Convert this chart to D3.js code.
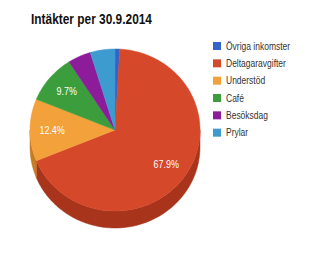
<!DOCTYPE html>
<html>
<head>
<meta charset="utf-8">
<script src="https://cdn.jsdelivr.net/npm/d3@7"></script>
<style>
  body { margin: 0; background: #fff; }
  text { font-family: Arial, "Liberation Sans", sans-serif; }
</style>
</head>
<body>
<svg width="316" height="267"></svg>
<script>
(function () {

  // data
  var categories = ['Övriga inkomster', 'Deltagaravgifter', 'Understöd', 'Café', 'Besöksdag', 'Prylar']
  var values = [0.9, 67.9, 12.4, 9.7, 4.4, 4.7]
  var colors = ['#3463c9', '#d6482a', '#f3a13a', '#3c9d3c', '#8d1c9b', '#3d9bd0']
  var sideColors = ['#28499a', '#a8341c', '#c57c22', '#2a7a2a', '#6a1375', '#2c78a6']

  var svg = d3.select('svg')
  var squash = 0.85   // the picture is a bit narrow horizontally

  // pie geometry
  var cx = 115, cy = 130, rx = 85, ry = 81, depth = 17

  var pie = d3.pie().sort(null).value(function (d) { return d })
  var arcs = pie(values)

  function px(a) { return cx + rx * Math.sin(a) }
  function py(a) { return cy - ry * Math.cos(a) }

  function rim(a0, a1, dy) {
    var pts = []
    var n = Math.max(2, Math.ceil((a1 - a0) / 0.02))
    for (var i = 0; i <= n; i++) {
      var a = a0 + (a1 - a0) * i / n
      pts.push([px(a), py(a) + dy])
    }
    return pts
  }

  // sides: only the front half shows
  var sides = svg.append('g')
  arcs.forEach(function (d, i) {
    var a0 = Math.max(d.startAngle, Math.PI / 2)
    var a1 = Math.min(d.endAngle, Math.PI * 3 / 2)
    if (a1 <= a0) return
    var top = rim(a0, a1, 0)
    var bottom = rim(a0, a1, depth).reverse()
    sides.append('path')
      .attr('d', 'M' + top.concat(bottom).join('L') + 'Z')
      .attr('fill', sideColors[i])
      .attr('stroke', sideColors[i])
      .attr('stroke-width', 0.5)
  })

  // top faces
  svg.append('g').selectAll('path')
    .data(arcs)
    .enter().append('path')
    .attr('d', function (d) {
      var pts = rim(d.startAngle, d.endAngle, 0)
      return 'M' + cx + ',' + cy + 'L' + pts.join('L') + 'Z'
    })
    .attr('fill', function (d, i) { return colors[i] })
    .attr('stroke', function (d, i) { return colors[i] })
    .attr('stroke-width', 0.5)

  // slice labels (small slices get none)
  svg.append('g').selectAll('text')
    .data(arcs.filter(function (d) { return d.value >= 5 }))
    .enter().append('text')
    .attr('transform', function (d) {
      var a = (d.startAngle + d.endAngle) / 2
      var x = cx + 0.74 * rx * Math.sin(a)
      var y = cy - 0.74 * ry * Math.cos(a)
      return 'translate(' + x + ',' + y + ') scale(' + squash + ',1)'
    })
    .attr('text-anchor', 'middle')
    .attr('dy', '0.35em')
    .attr('fill', '#fff')
    .attr('font-size', 10.5)
    .text(function (d) { return d.value.toFixed(1) + '%' })

  // title
  svg.append('text')
    .attr('transform', 'translate(31,24) scale(' + squash + ',1)')
    .attr('font-size', 14)
    .attr('font-weight', 'bold')
    .attr('fill', '#111')
    .text('Intäkter per 30.9.2014')

  // legend
  var legendY = d3.scaleBand().domain(categories).range([42, 146])
  var legend = svg.append('g').selectAll('g')
    .data(categories)
    .enter().append('g')
    .attr('transform', function (d) { return 'translate(213,' + legendY(d) + ')' })

  legend.append('rect')
    .attr('width', 8)
    .attr('height', 8)
    .attr('fill', function (d, i) { return colors[i] })

  legend.append('text')
    .attr('transform', 'translate(13,7.5) scale(' + squash + ',1)')
    .attr('font-size', 10)
    .attr('fill', '#333')
    .text(function (d) { return d })

})()
</script>
</body>
</html>
